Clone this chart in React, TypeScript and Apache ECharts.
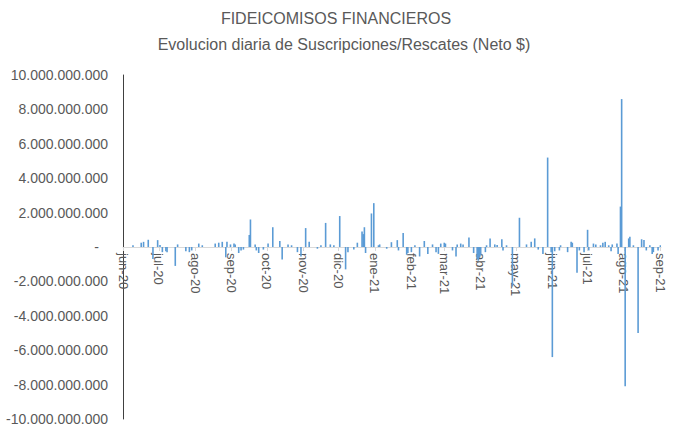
import { useEffect, useRef } from "react";
import * as echarts from "echarts";

const titleText = "FIDEICOMISOS FINANCIEROS";
const subtitleText = "Evolucion diaria de Suscripciones/Rescates (Neto $)";
const monthNames = ["ene", "feb", "mar", "abr", "may", "jun", "jul", "ago", "sep", "oct", "nov", "dic"];
const startDate = "2020-06-01";
const endDate = "2021-09-01";
const yMin = -10000000000;
const yMax = 10000000000;
const yStep = 2000000000;

// Net daily flow (ARS)
const flowDates = [
  "2020-06-09", "2020-06-16", "2020-06-18", "2020-06-22", "2020-06-26", "2020-06-30",
  "2020-07-02", "2020-07-04", "2020-07-07", "2020-07-08", "2020-07-15", "2020-07-17",
  "2020-07-24", "2020-07-27", "2020-07-29", "2020-08-04", "2020-08-07", "2020-08-18",
  "2020-08-21", "2020-08-24", "2020-08-27", "2020-08-28", "2020-08-31", "2020-09-03",
  "2020-09-04", "2020-09-07", "2020-09-09", "2020-09-11", "2020-09-16", "2020-09-17",
  "2020-09-21", "2020-09-22", "2020-09-24", "2020-09-28", "2020-10-02", "2020-10-06",
  "2020-10-12", "2020-10-14", "2020-10-19", "2020-10-22", "2020-10-27", "2020-10-30",
  "2020-11-03", "2020-11-06", "2020-11-13", "2020-11-16", "2020-11-20", "2020-11-24",
  "2020-11-27", "2020-12-02", "2020-12-07", "2020-12-09", "2020-12-14", "2020-12-17",
  "2020-12-21", "2020-12-22", "2020-12-23", "2020-12-24", "2020-12-29", "2020-12-31",
  "2021-01-04", "2021-01-05", "2021-01-11", "2021-01-15", "2021-01-20", "2021-01-21",
  "2021-01-25", "2021-01-28", "2021-01-29", "2021-02-01", "2021-02-04", "2021-02-08",
  "2021-02-12", "2021-02-15", "2021-02-19", "2021-02-22", "2021-02-24", "2021-02-26",
  "2021-03-01", "2021-03-02", "2021-03-08", "2021-03-11", "2021-03-12", "2021-03-15",
  "2021-03-17", "2021-03-22", "2021-03-26", "2021-03-29", "2021-03-30", "2021-03-31",
  "2021-04-01", "2021-04-05", "2021-04-06", "2021-04-09", "2021-04-13", "2021-04-15",
  "2021-04-19", "2021-04-20", "2021-04-23", "2021-04-28", "2021-05-04", "2021-05-10",
  "2021-05-14", "2021-05-17", "2021-05-20", "2021-05-24", "2021-05-28", "2021-05-31",
  "2021-06-01", "2021-06-03", "2021-06-07", "2021-06-08", "2021-06-14", "2021-06-17",
  "2021-06-18", "2021-06-22", "2021-06-24", "2021-06-28", "2021-07-01", "2021-07-02",
  "2021-07-06", "2021-07-08", "2021-07-12", "2021-07-14", "2021-07-16", "2021-07-19",
  "2021-07-21", "2021-07-22", "2021-07-26", "2021-07-27", "2021-07-29", "2021-07-30",
  "2021-08-02", "2021-08-05", "2021-08-06", "2021-08-09", "2021-08-13", "2021-08-16",
  "2021-08-18", "2021-08-20", "2021-08-23", "2021-08-25", "2021-08-26", "2021-08-30",
  "2021-09-01",
];

const flowValues = [
  100e6, 250e6, 300e6, 420e6, -700e6, 400e6,
  120e6, -300e6, -250e6, -300e6, -1100e6, 150e6,
  -250e6, -300e6, -200e6, 200e6, 100e6, 200e6,
  250e6, 300e6, -600e6, 300e6, 150e6, 200e6,
  150e6, -350e6, -200e6, -150e6, 700e6, 1600e6,
  150e6, -200e6, -350e6, -150e6, 200e6, 1150e6,
  350e6, -720e6, 150e6, 100e6, -300e6, -550e6,
  1100e6, 300e6, -100e6, 100e6, 1400e6, 150e6,
  100e6, 1800e6, -1300e6, -300e6, -150e6, 250e6,
  900e6, 750e6, 1150e6, -350e6, 1950e6, 2550e6,
  100e6, 150e6, -100e6, 280e6, 400e6, -200e6,
  820e6, -450e6, -350e6, -300e6, 100e6, -550e6,
  350e6, -400e6, 150e6, -300e6, -400e6, 200e6,
  250e6, 200e6, -200e6, -550e6, 150e6, 200e6,
  150e6, 550e6, -350e6, -700e6, -800e6, -600e6,
  -500e6, -300e6, 100e6, 500e6, 150e6, 120e6,
  450e6, -200e6, 100e6, -2300e6, 1700e6, 150e6,
  300e6, 500e6, -150e6, -400e6, 5200e6, -300e6,
  -6400e6, -250e6, -200e6, 100e6, -300e6, 300e6,
  250e6, -1500e6, -200e6, -300e6, 1000e6, -200e6,
  200e6, 150e6, 100e6, 250e6, 300e6, 100e6,
  -250e6, 150e6, 200e6, -400e6, 2350e6, 8600e6,
  -8100e6, 500e6, 600e6, 100e6, -5000e6, 450e6,
  400e6, -200e6, 100e6, -400e6, -300e6, -200e6,
  100e6,
];

function buildDays(start: string, end: string): string[] {
  const out: string[] = [];
  let t = Date.parse(start + "T00:00:00Z");
  const e = Date.parse(end + "T00:00:00Z");
  while (t <= e) {
    out.push(new Date(t).toISOString().slice(0, 10));
    t += 86400000;
  }
  return out;
}

function fmtNum(v: number): string {
  if (v === 0) return "{z|-}";
  const s = Math.abs(Math.round(v)).toString().replace(/\B(?=(\d{3})+(?!\d))/g, ".");
  return (v < 0 ? "-" : "") + s;
}

function fmtMonth(d: string): string {
  const m = parseInt(d.slice(5, 7), 10);
  return monthNames[m - 1] + "-" + d.slice(2, 4);
}

const GRID_TOP = 75;
const GRID_BOTTOM = 9;
const CHART_H = 428;

export default function App() {
  const ref = useRef<HTMLDivElement>(null);
  useEffect(() => {
    document.body.style.margin = "0";
    if (!ref.current) return;
    const chart = echarts.init(ref.current, null, { renderer: "svg" });
    const days = buildDays(startDate, endDate);
    const lookup = new Map<string, number>();
    flowDates.forEach((d, i) => lookup.set(d, flowValues[i]));
    const seriesData = days.map((d) => (lookup.has(d) ? lookup.get(d)! : null));
    const isMonthStart = (_i: number, v: string) => v.endsWith("-01");
    const font = "Liberation Sans";
    const gridH = CHART_H - GRID_TOP - GRID_BOTTOM;
    chart.setOption({
      animation: false,
      textStyle: { fontFamily: font },
      graphic: [
        {
          type: "text",
          x: 336,
          y: 18,
          style: { text: titleText, font: `16px "${font}"`, fill: "#595959", align: "center", verticalAlign: "middle" },
        },
        {
          type: "text",
          x: 344,
          y: 44,
          style: { text: subtitleText, font: `16px "${font}"`, fill: "#595959", align: "center", verticalAlign: "middle" },
        },
      ],
      grid: {
        left: 123,
        right: 25,
        top: GRID_TOP,
        bottom: GRID_BOTTOM,
        containLabel: false,
        outerBoundsMode: "none",
      },
      xAxis: {
        type: "category",
        data: days,
        boundaryGap: true,
        position: "bottom",
        offset: -gridH / 2,
        axisLine: { onZero: false, lineStyle: { color: "#d9d9d9", width: 1 } },
        axisTick: { show: true, interval: isMonthStart, alignWithLabel: true, length: 4, lineStyle: { color: "#d9d9d9" } },
        axisLabel: {
          interval: isMonthStart,
          rotate: -90,
          margin: 6,
          color: "#595959",
          fontSize: 13,
          fontFamily: font,
          hideOverlap: false,
          formatter: (v: string) => fmtMonth(v),
        },
        splitLine: { show: false },
      },
      yAxis: {
        type: "value",
        min: yMin,
        max: yMax,
        interval: yStep,
        axisLine: { show: true, lineStyle: { color: "#404040", width: 1 } },
        axisTick: { show: false },
        splitLine: { show: false },
        axisLabel: {
          color: "#595959",
          fontSize: 14,
          fontFamily: font,
          margin: 15,
          formatter: (v: number) => fmtNum(v),
          rich: { z: { color: "#595959", fontSize: 14, fontFamily: font, padding: [0, 9, 0, 0] } },
        },
      },
      series: [
        {
          type: "bar",
          data: seriesData,
          barWidth: 1.6,
          itemStyle: { color: "#5B9BD5" },
          silent: true,
        },
      ],
    });
    return () => chart.dispose();
  }, []);
  return <div ref={ref} style={{ width: 686, height: 428 }} />;
}
